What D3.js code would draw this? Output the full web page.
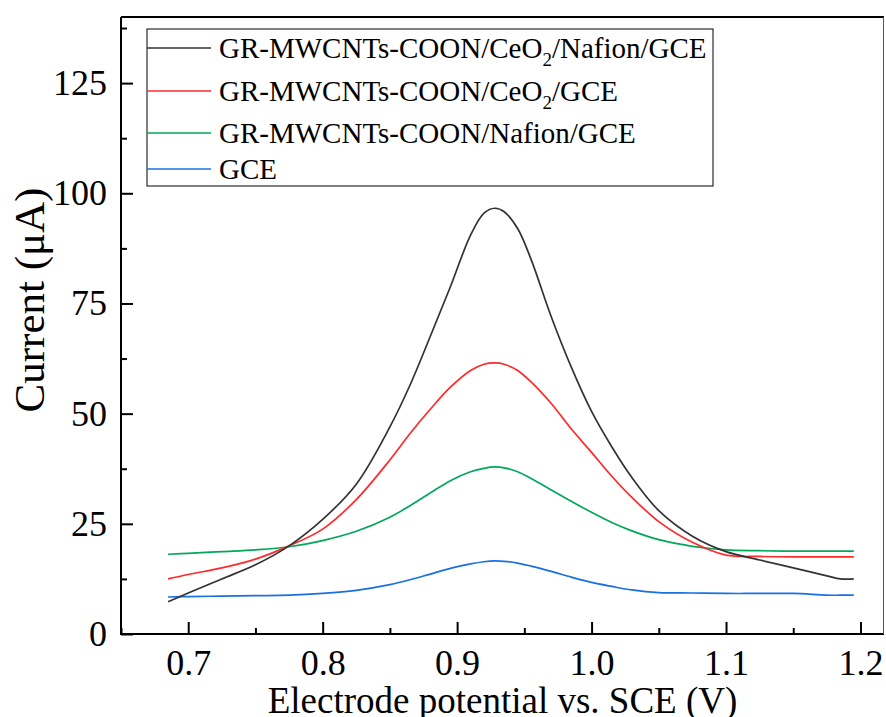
<!DOCTYPE html>
<html>
<head>
<meta charset="utf-8">
<script src="https://cdnjs.cloudflare.com/ajax/libs/d3/7.8.5/d3.min.js"></script>
<style>
	body { margin: 0; background: #fff; }
	svg text { font-family: "Liberation Serif", "Times New Roman", serif; fill: #000; }
</style>
</head>
<body>
<svg id="chart" width="886" height="717"></svg>
<script>
// potential (V) shared by all four traces
var potential = [0.685, 0.70, 0.725, 0.75, 0.775, 0.80, 0.825, 0.85, 0.865, 0.88, 0.895, 0.91, 0.92, 0.928, 0.935, 0.945, 0.955, 0.97, 0.985, 1.00, 1.015, 1.03, 1.05, 1.075, 1.10, 1.125, 1.15, 1.175, 1.185, 1.195];

// current (uA)
var nafionCeo2 = [7.3, 9.3, 12.5, 15.7, 20.0, 26.0, 34.0, 47.0, 56.5, 67.5, 78.8, 90.5, 95.5, 96.6, 95.8, 92.0, 85.0, 72.0, 60.5, 50.5, 42.5, 35.5, 28.0, 22.2, 18.7, 16.8, 15.0, 13.2, 12.5, 12.5];
var ceo2 = [12.5, 13.5, 15.0, 17.0, 20.0, 23.8, 30.5, 39.5, 45.5, 51.0, 56.0, 59.8, 61.2, 61.5, 61.2, 59.8, 57.2, 52.3, 46.5, 41.2, 35.8, 31.0, 25.5, 20.8, 17.9, 17.6, 17.5, 17.5, 17.5, 17.5];
var nafion = [18.1, 18.3, 18.7, 19.1, 19.8, 21.2, 23.3, 26.5, 29.1, 32.0, 34.8, 36.8, 37.6, 37.9, 37.7, 36.8, 35.3, 32.7, 30.1, 27.6, 25.3, 23.4, 21.4, 19.9, 19.1, 18.9, 18.8, 18.8, 18.8, 18.8];
var gce = [8.4, 8.5, 8.6, 8.7, 8.8, 9.2, 9.9, 11.2, 12.3, 13.6, 14.9, 15.9, 16.4, 16.6, 16.5, 16.1, 15.4, 14.2, 12.9, 11.7, 10.8, 10.0, 9.4, 9.3, 9.2, 9.2, 9.2, 8.8, 8.8, 8.8];

var seriesNames = ["GR-MWCNTs-COON/CeO2/Nafion/GCE", "GR-MWCNTs-COON/CeO2/GCE", "GR-MWCNTs-COON/Nafion/GCE", "GCE"];
var seriesColors = ["#333333", "#ff2a2a", "#00a85a", "#1a6fe3"];

var xTicks = [0.7, 0.8, 0.9, 1.0, 1.1, 1.2];
var xMinor = [0.65, 0.75, 0.85, 0.95, 1.05, 1.15];
var yTicks = [0, 25, 50, 75, 100, 125];
var yMinor = [12.5, 37.5, 62.5, 87.5, 112.5, 137.5];

var allSeries = [nafionCeo2, ceo2, nafion, gce];

var svg = d3.select("#chart");
var plotL = 121, plotR = 884, plotT = 17, plotB = 634;

var x = d3.scaleLinear().domain([0.65, 1.2175]).range([plotL, plotR]);
var y = d3.scaleLinear().domain([0, 140]).range([plotB, plotT]);

//////// axes, ticks point inward
svg.append("g")
	.attr("transform", "translate(0," + plotB + ")")
	.call(d3.axisBottom(x).tickValues(xMinor).tickSizeInner(-6).tickSizeOuter(0).tickFormat(""));
svg.append("g")
	.attr("class", "xaxis")
	.attr("transform", "translate(0," + plotB + ")")
	.call(d3.axisBottom(x).tickValues(xTicks).tickSizeInner(-12).tickSizeOuter(0).tickPadding(15).tickFormat(d3.format(".1f")));

svg.append("g")
	.attr("transform", "translate(" + plotL + ",0)")
	.call(d3.axisLeft(y).tickValues(yMinor).tickSizeInner(-6).tickSizeOuter(0).tickFormat(""));
svg.append("g")
	.attr("class", "yaxis")
	.attr("transform", "translate(" + plotL + ",0)")
	.call(d3.axisLeft(y).tickValues(yTicks).tickSizeInner(-12).tickSizeOuter(0).tickPadding(14));

svg.selectAll(".domain").remove();
svg.selectAll(".tick line").attr("stroke", "#000").attr("stroke-width", 2);
svg.selectAll(".xaxis text, .yaxis text")
	.attr("fill", "#000")
	.style("font-size", "36px");

// frame: heavy left/bottom/top, thin right
svg.append("path")
	.attr("d", "M" + plotL + "," + plotT + "V" + plotB + "H" + plotR)
	.attr("fill", "none").attr("stroke", "#000").attr("stroke-width", 2);
svg.append("line")
	.attr("x1", plotL).attr("x2", plotR).attr("y1", plotT).attr("y2", plotT)
	.attr("stroke", "#000").attr("stroke-width", 2);
svg.append("line")
	.attr("x1", plotR - 0.5).attr("x2", plotR - 0.5).attr("y1", plotT).attr("y2", plotB)
	.attr("stroke", "#555").attr("stroke-width", 1);

//////// the traces, black drawn last so it sits on top
var line = d3.line()
	.x(function(d, i) { return x(potential[i]); })
	.y(function(d) { return y(d); })
	.curve(d3.curveCatmullRom.alpha(0.5));

for (var s = allSeries.length - 1; s >= 0; s--) {
	svg.append("path")
		.datum(allSeries[s])
		.attr("fill", "none")
		.attr("stroke", seriesColors[s])
		.attr("stroke-width", 1.7)
		.attr("d", line);
}

//////// axis titles
svg.append("text")
	.attr("x", (265 + 740) / 2)
	.attr("y", 713)
	.attr("text-anchor", "middle")
	.style("font-size", "37px")
	.text("Electrode potential vs. SCE (V)");

svg.append("text")
	.attr("transform", "translate(44,300) rotate(-90)")
	.attr("text-anchor", "middle")
	.style("font-size", "43px")
	.text("Current (\u03bcA)");

//////// legend
var legendRows = [48, 91, 133, 169];
svg.append("rect")
	.attr("x", 147).attr("y", 29)
	.attr("width", 566).attr("height", 157)
	.attr("fill", "#fff").attr("stroke", "#000").attr("stroke-width", 1);

var legend = svg.selectAll("g.legend")
	.data(seriesNames)
	.enter().append("g")
	.attr("class", "legend")
	.attr("transform", function(d, i) { return "translate(147," + legendRows[i] + ")"; });

legend.append("line")
	.attr("x1", 0).attr("x2", 64)
	.attr("stroke", function(d, i) { return seriesColors[i]; })
	.attr("stroke-width", 1.7);

legend.append("text")
	.attr("x", 72)
	.attr("dy", "0.33em")
	.style("font-family", "Liberation Serif, Times New Roman, serif")
	.style("font-size", "29px")
	.each(function(d) {
		// digits in the names are subscripts (CeO2)
		var t = d3.select(this);
		var parts = d.split(/(\d)/);
		var shifted = false;
		parts.forEach(function(p) {
			if (p === "") return;
			if (/^\d$/.test(p)) {
				t.append("tspan").attr("dy", 8).style("font-size", "19px").text(p);
				shifted = true;
			} else {
				var sp = t.append("tspan").text(p);
				if (shifted) { sp.attr("dy", -8); shifted = false; }
			}
		});
	});
</script>
</body>
</html>
